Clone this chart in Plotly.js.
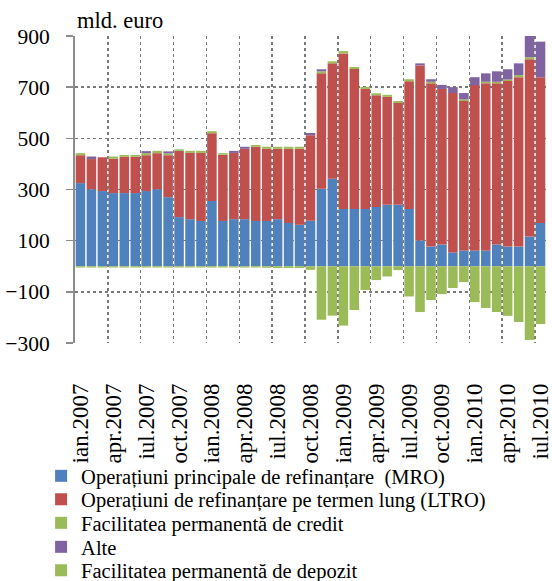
<!DOCTYPE html>
<html>
<head>
<meta charset="utf-8">
<script src="https://cdn.plot.ly/plotly-3.0.1.min.js"></script>
<style>html,body{margin:0;padding:0;background:#fff}#chart{width:552px;height:581px}</style>
</head>
<body>
<div id="chart"></div>
<script>
// Months jan 2007 .. jul 2010
const months = ["ian.2007","feb.2007","mar.2007","apr.2007","mai.2007","iun.2007","iul.2007","aug.2007","sep.2007","oct.2007","noi.2007","dec.2007",
"ian.2008","feb.2008","mar.2008","apr.2008","mai.2008","iun.2008","iul.2008","aug.2008","sep.2008","oct.2008","noi.2008","dec.2008",
"ian.2009","feb.2009","mar.2009","apr.2009","mai.2009","iun.2009","iul.2009","aug.2009","sep.2009","oct.2009","noi.2009","dec.2009",
"ian.2010","feb.2010","mar.2010","apr.2010","mai.2010","iun.2010","iul.2010"];
const tickLabels = ["ian.2007","apr.2007","iul.2007","oct.2007","ian.2008","apr.2008","iul.2008","oct.2008","ian.2009","apr.2009","iul.2009","oct.2009","ian.2010","apr.2010","iul.2010"];

// mld. euro
const mro    = [325,301,294,286,286,286,294,301,270,192,184,177, 255,177,184,184,177,177,184,169,162,178,303,342, 224,224,224,232,240,240,224,101,77,85,54,62, 62,62,85,77,77,116,169];
const ltro   = [109,118,132,135,142,142,140,141,164,259,259,266, 265,259,259,275,290,282,275,290,297,334,451,451, 608,547,469,436,422,398,499,684,638,608,623,584, 646,653,630,647,662,693,570];
const credit = [8,0,0,8,7,7,8,9,7,6,8,8, 8,6,0,0,7,8,8,8,8,0,8,8, 9,8,8,8,8,8,8,0,6,0,0,6, 0,6,6,6,8,8,0];
const alte   = [0,10,0,0,0,0,8,0,8,0,0,0, 0,0,8,8,0,0,0,0,0,9,8,0, 0,0,0,0,0,0,0,8,10,16,23,25, 31,33,41,40,46,87,139];
const depozit= [-5,-5,-5,-5,-5,-5,-5,-5,-5,-5,-5,-5, -5,-5,-5,-5,-5,-6,-7,-7,-7,-14,-209,-193, -232,-171,-93,-54,-40,-15,-118,-179,-132,-109,-85,-62, -140,-163,-179,-194,-218,-288,-226];

const names = ["Operațiuni principale de refinanțare  (MRO)","Operațiuni de refinanțare pe termen lung (LTRO)","Facilitatea permanentă de credit","Alte","Facilitatea permanentă de depozit"];
const colors = ["#4F81BD","#C0504D","#9BBB59","#8064A2","#9BBB59"];
const series = [mro, ltro, credit, alte, depozit];

const FONT = "Liberation Serif, Times New Roman, serif";
const legendIds = ["legend","legend2","legend3","legend4","legend5"];
const rowCenters = [476, 499.5, 523, 547, 570.5];

const xIdx = months.map((m,i)=>i);
const traces = series.map((s,k)=>({
  type:"bar", x:xIdx, y:s, name:names[k], legend:legendIds[k],
  marker:{color:colors[k], line:{width:0}},
  hovertext:months, cliponaxis:true
}));

const tickVals = tickLabels.map(l=>months.indexOf(l));
const gridVals = [];
for(let i=3;i<months.length;i+=3) gridVals.push(i-0.5);

const layout = {
  width:552, height:581,
  margin:{l:75, r:6, t:36, b:238, autoexpand:false},
  paper_bgcolor:"#fff", plot_bgcolor:"#fff",
  barmode:"relative", bargap:0.13,
  font:{family:FONT, size:20, color:"#000"},
  showlegend:true,
  xaxis:{range:[-0.5, months.length-0.5], tickmode:"array", tickvals:tickVals, ticktext:tickLabels,
    tickangle:-90, ticks:"", showgrid:false, zeroline:false, showline:false, automargin:false,
    ticklabelstandoff:35, ticklabeloverflow:"allow", tickfont:{family:FONT, size:23, color:"#000"},
    minor:{tickmode:"array", tickvals:gridVals, showgrid:true, gridcolor:"#7a7a7a", griddash:"dot", gridwidth:1.4, ticks:""},
    fixedrange:true},
  yaxis:{range:[-300,900], tickmode:"linear", tick0:-300, dtick:200, showgrid:true, gridcolor:"#7a7a7a",
    griddash:"dot", gridwidth:1.4, zeroline:false, showline:true, linecolor:"#8c8c8c", linewidth:2,
    ticks:"outside", ticklen:7, tickcolor:"#8c8c8c", tickwidth:1.5, ticklabelstandoff:12, automargin:false,
    tickfont:{family:FONT, size:21.5, color:"#000"}, fixedrange:true},
  annotations:[{text:"mld. euro", xref:"paper", yref:"paper", x:0, y:1, xanchor:"left", yanchor:"bottom",
    yshift:1, showarrow:false, font:{family:FONT, size:22.5, color:"#000"}}]
};
legendIds.forEach((id,k)=>{
  layout[id] = {x:-0.072, xanchor:"left", yref:"container", y:1 - rowCenters[k]/581, yanchor:"middle",
    font:{family:FONT, size:20.5, color:"#000"}, itemwidth:30, bgcolor:"rgba(0,0,0,0)", borderwidth:0};
});
Plotly.newPlot("chart", traces, layout, {displayModeBar:false, staticPlot:true});
</script>
</body>
</html>
